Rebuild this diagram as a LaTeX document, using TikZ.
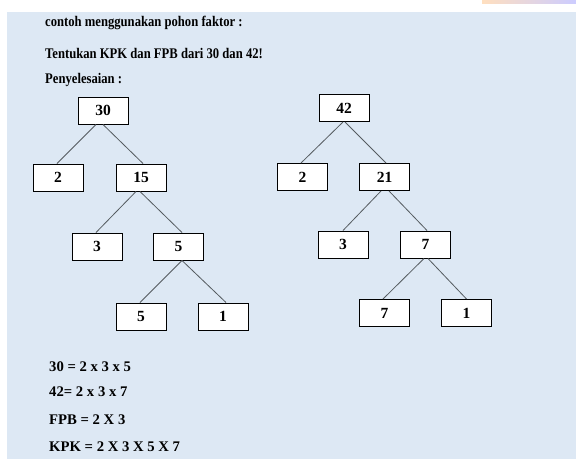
\documentclass[tikz,border=0pt]{standalone}
\usepackage{fontspec}
\setmainfont{Liberation Serif}[FakeStretch=0.86]
\newfontfamily\widefont{Liberation Serif}
\definecolor{panel}{HTML}{DDE8F4}
\definecolor{edge}{HTML}{555B60}
\begin{document}
\begin{tikzpicture}[x=1pt,y=-1pt,
  box/.style={draw=black,line width=1pt,fill=white,minimum width=50pt,minimum height=27pt,inner sep=0pt,font=\widefont\fontsize{15.5}{17}\selectfont\bfseries},
  link/.style={draw=edge,line width=0.8pt},
  txt/.style={anchor=west,inner sep=0pt,font=\fontsize{14.7}{16}\selectfont\bfseries},
  eq/.style={anchor=west,inner sep=0pt,font=\widefont\fontsize{14.7}{16}\selectfont\bfseries}]
% page and panel
\useasboundingbox (0,0) rectangle (576,459);
\fill[white] (0,0) rectangle (576,459);
\fill[panel] (7,12) rectangle (576,459);
\shade[left color=orange!25,right color=blue!20] (482,0) rectangle (576,3);

% heading lines
\node[txt] (h1) at (45,23) {contoh menggunakan pohon faktor :};
\node[txt] (h2) at (45,53) {Tentukan KPK dan FPB dari 30 dan 42!};
\node[txt] (h3) at (45,80) {Penyelesaian :};

% factor tree of 30
\node[box] (a30) at (103,110.5) {30};
\node[box] (a2)  at (58,177.5) {2};
\node[box] (a15) at (141,177.5) {15};
\node[box] (a3)  at (97,246.5) {3};
\node[box] (a5)  at (178.5,246.5) {5};
\node[box] (a5b) at (141,316.5) {5};
\node[box] (a1)  at (223,316.5) {1};
\draw[link] ([xshift=-7pt]a30.south) -- ([xshift=-1pt]a2.north);
\draw[link] (a30.south) -- ([xshift=2pt]a15.north);
\draw[link] ([xshift=-5pt]a15.south) -- ([xshift=-1pt]a3.north);
\draw[link] ([xshift=-1pt]a15.south) -- ([xshift=3.5pt]a5.north);
\draw[link] ([xshift=3.5pt]a5.south) -- ([xshift=-1pt]a5b.north);
\draw[link] ([xshift=3.5pt]a5.south) -- ([xshift=3pt]a1.north);

% factor tree of 42
\node[box] (b42) at (344,108) {42};
\node[box] (b2)  at (302.5,177) {2};
\node[box] (b21) at (384.5,177) {21};
\node[box] (b3)  at (343,244.5) {3};
\node[box] (b7)  at (425.5,244.5) {7};
\node[box] (b7b) at (384.5,313) {7};
\node[box] (b1)  at (466.5,313) {1};
\draw[link] ([xshift=-1pt]b42.south) -- ([xshift=-1.5pt]b2.north);
\draw[link] ([xshift=1pt]b42.south) -- ([xshift=1.5pt]b21.north);
\draw[link] ([xshift=-3.5pt]b21.south) -- (b3.north);
\draw[link] ([xshift=4.5pt]b21.south) -- ([xshift=1.5pt]b7.north);
\draw[link] ([xshift=-1.5pt]b7.south) -- ([xshift=-1.5pt]b7b.north);
\draw[link] ([xshift=2.5pt]b7.south) -- (b1.north);

% results
\node[eq] (r1) at (49,367) {30 = 2 x 3 x 5};
\node[eq] (r2) at (49,392) {42= 2 x 3 x 7};
\node[eq] (r3) at (49,420) {FPB = 2 X 3};
\node[eq] (r4) at (49,447) {KPK = 2 X 3 X 5 X 7};
\end{tikzpicture}
\end{document}
